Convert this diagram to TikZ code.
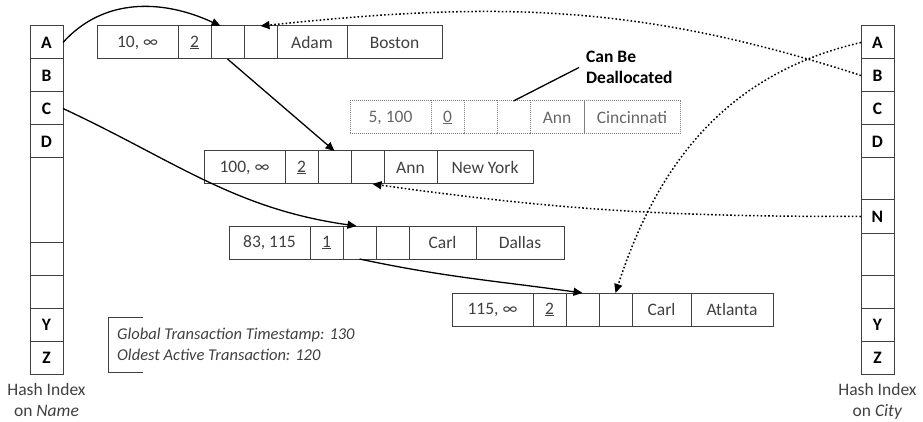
\documentclass[tikz,border=0pt]{standalone}
\usepackage{fontspec}
\setmainfont{Carlito}
\usepackage{tikz}
\usetikzlibrary{positioning,arrows.meta}
\definecolor{ink}{RGB}{64,64,64}
\newcommand{\cellfont}{\fontsize{17.5}{21}\selectfont}

\begin{document}
\begin{tikzpicture}[
  x=1pt,y=1pt,
  font=\cellfont,
  cell/.style={draw=ink,line width=1pt,minimum height=33pt,inner sep=0pt,
               outer sep=0pt,text=ink,font=\cellfont},
  tsc/.style={cell,minimum width=81pt},
  ptr/.style={cell,minimum width=33pt},
  fld/.style={cell,minimum width=#1},
  old/.style={draw=black!50,densely dotted,text=black!60},
  hc/.style={cell,minimum width=33pt,text=black,font=\cellfont\bfseries},
  lnk/.style={-{Triangle[length=9pt,width=8pt]},line width=1.3pt},
  dlnk/.style={lnk,line width=1.5pt,dash pattern=on 1.6pt off 2.2pt},
  nt/.style={align=center,text=ink,inner sep=0pt,font=\cellfont}
]
\useasboundingbox (0,0) rectangle (923,-422);
% hash index on name
\node[hc,anchor=north west] (nA) at (30,-26) {A};
\foreach \k/\p in {B/A,C/B,D/C} {\node[hc,below=0pt of n\p] (n\k) {\k};}
\node[hc,below=0pt of nD,minimum height=84pt] (nE) {};
\node[hc,below=0pt of nE] (nF) {};
\node[hc,below=0pt of nF] (nG) {};
\node[hc,below=0pt of nG] (nY) {Y};
\node[hc,below=0pt of nY] (nZ) {Z};
\node[nt,below=9pt of nZ] (nlab) {Hash Index\\on \textit{Name}};
% hash index on city
\node[hc,anchor=north west] (cA) at (861,-26) {A};
\foreach \k/\p in {B/A,C/B,D/C} {\node[hc,below=0pt of c\p] (c\k) {\k};}
\node[hc,below=0pt of cD,minimum height=42pt] (cE) {};
\node[hc,below=0pt of cE] (cN) {N};
\node[hc,below=0pt of cN,minimum height=42pt] (cF) {};
\node[hc,below=0pt of cF] (cG) {};
\node[hc,below=0pt of cG] (cY) {Y};
\node[hc,below=0pt of cY] (cZ) {Z};
\node[nt,below=9pt of cZ] (clab) {Hash Index\\on \textit{City}};
% versions
\node[tsc,anchor=west] (adam-ts) at (97,-42.5) {10, ∞};
\node[ptr,right=0pt of adam-ts] (adam-cnt) {\underline{2}};
\node[ptr,right=0pt of adam-cnt] (adam-nn) {};
\node[ptr,right=0pt of adam-nn] (adam-nc) {};
\node[fld=70pt,right=0pt of adam-nc] (adam-name) {Adam};
\node[fld=95pt,right=0pt of adam-name] (adam-city) {Boston};

\node[tsc,old,anchor=west] (annOld-ts) at (350,-117.5) {5, 100};
\node[ptr,old,right=0pt of annOld-ts] (annOld-cnt) {\underline{0}};
\node[ptr,old,right=0pt of annOld-cnt] (annOld-nn) {};
\node[ptr,old,right=0pt of annOld-nn] (annOld-nc) {};
\node[fld=54pt,old,right=0pt of annOld-nc] (annOld-name) {Ann};
\node[fld=96pt,old,right=0pt of annOld-name] (annOld-city) {Cincinnati};

\node[tsc,anchor=west] (annNew-ts) at (204,-167.5) {100, ∞};
\node[ptr,right=0pt of annNew-ts] (annNew-cnt) {\underline{2}};
\node[ptr,right=0pt of annNew-cnt] (annNew-nn) {};
\node[ptr,right=0pt of annNew-nn] (annNew-nc) {};
\node[fld=53pt,right=0pt of annNew-nc] (annNew-name) {Ann};
\node[fld=96pt,right=0pt of annNew-name] (annNew-city) {New York};

\node[tsc,anchor=west] (carlOld-ts) at (229,-242.5) {83, 115};
\node[ptr,right=0pt of carlOld-ts] (carlOld-cnt) {\underline{1}};
\node[ptr,right=0pt of carlOld-cnt] (carlOld-nn) {};
\node[ptr,right=0pt of carlOld-nn] (carlOld-nc) {};
\node[fld=67pt,right=0pt of carlOld-nc] (carlOld-name) {Carl};
\node[fld=88pt,right=0pt of carlOld-name] (carlOld-city) {Dallas};

\node[tsc,anchor=west] (carlNew-ts) at (452,-309.5) {115, ∞};
\node[ptr,right=0pt of carlNew-ts] (carlNew-cnt) {\underline{2}};
\node[ptr,right=0pt of carlNew-cnt] (carlNew-nn) {};
\node[ptr,right=0pt of carlNew-nn] (carlNew-nc) {};
\node[fld=59pt,right=0pt of carlNew-nc] (carlNew-name) {Carl};
\node[fld=82pt,right=0pt of carlNew-name] (carlNew-city) {Atlanta};
% call-out
\node[anchor=west,align=left,inner xsep=7pt,inner ysep=0pt,
      font=\cellfont\bfseries] (dealloc) at (579,-67.5) {Can Be\\Deallocated};
\draw[line width=1.3pt] (annOld-nc.north) -- (dealloc.west);
% name chain
\draw[lnk] (nA.east) to[out=48,in=155] ([xshift=-7pt]adam-nn.north);
\draw[lnk] (adam-nn.south) -- (annNew-nn.north);
\draw[lnk] (nC.east) to[out=-25,in=172] ([xshift=-3pt]carlOld-nn.north);
\draw[lnk] (carlOld-nn.south) to[out=-12,in=172] (carlNew-nn.north);
% city chain
\draw[dlnk] (cB.west) to[out=162,in=6] (adam-nc.north);
\draw[dlnk] (cA.west) to[out=193,in=72] (carlNew-nc.north);
\draw[dlnk] (cN.west) to[out=180,in=-8] ([xshift=5pt]annNew-nc.south);
% timestamps
\node[anchor=west,align=left,inner sep=0pt,text=ink,
      font=\fontsize{16.5}{21}\selectfont\itshape] (clock) at (117,-344)
  {Global Transaction Timestamp: 130\\Oldest Active Transaction: 120};
\draw[ink,line width=1pt] (143,-317) -| (108,-372) -- (143,-372);
\end{tikzpicture}
\end{document}
